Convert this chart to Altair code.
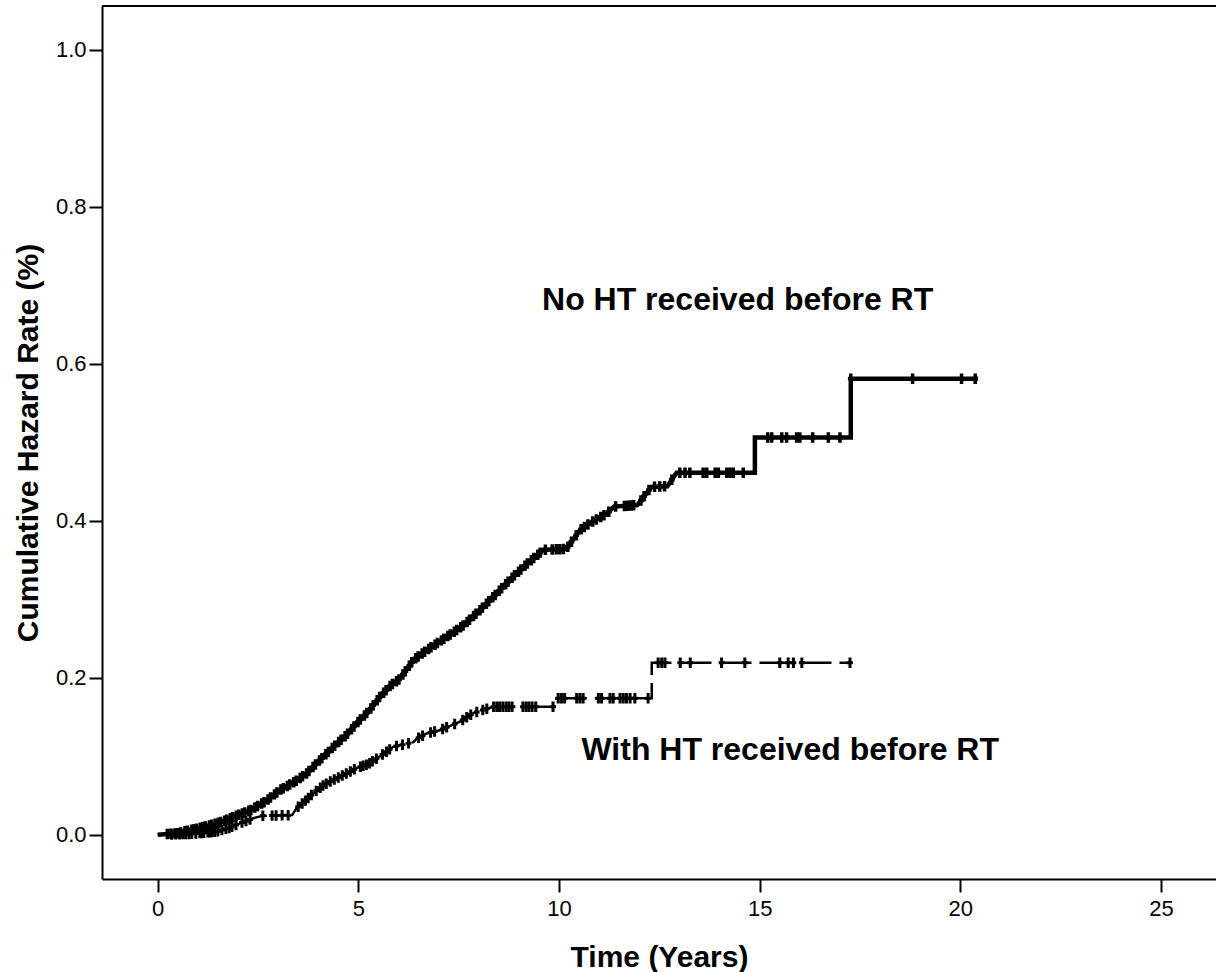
import altair as alt
import numpy as np
import pandas as pd

# ---- curve vertices (time in years, cumulative hazard) ----
no_ht_t = [0.0, 0.5, 0.8, 1.0, 1.3, 1.63, 2.0, 2.3, 2.7, 3.05, 3.4, 3.71, 4.0, 4.38, 4.7,
           4.96, 5.25, 5.54, 5.8, 6.04, 6.37, 6.7, 7.2, 7.6, 8.03, 8.4, 8.86, 9.2, 9.5,
           9.61, 10.18, 10.52, 10.8, 11.19, 11.37, 11.95, 12.18, 12.3, 12.7, 12.93,
           14.88, 14.88, 17.27, 17.27, 20.44]
no_ht_h = [0.0, 0.002, 0.006, 0.008, 0.012, 0.017, 0.025, 0.031, 0.043, 0.057, 0.067, 0.078,
           0.093, 0.112, 0.127, 0.142, 0.157, 0.176, 0.19, 0.199, 0.2225, 0.235, 0.252,
           0.266, 0.286, 0.305, 0.329, 0.345, 0.358, 0.363, 0.364, 0.388, 0.398, 0.409,
           0.418, 0.420, 0.435, 0.443, 0.444, 0.461, 0.461, 0.506, 0.506, 0.581, 0.581]

with_ht_t = [0.0, 0.8, 1.47, 1.8, 2.05, 2.38, 2.6, 3.35, 3.46, 3.65, 3.88, 4.1, 4.38, 4.7,
             4.96, 5.25, 5.54, 5.87, 6.37, 6.45, 6.7, 7.03, 7.3, 7.53, 7.87, 8.36,
             9.94, 9.94, 12.31, 12.31, 17.25]
with_ht_h = [0.0, 0.001, 0.004, 0.009, 0.0145, 0.021, 0.024, 0.025, 0.034, 0.042, 0.053,
             0.062, 0.070, 0.078, 0.085, 0.090, 0.100, 0.112, 0.118, 0.122, 0.129,
             0.133, 0.139, 0.144, 0.155, 0.163, 0.163, 0.174, 0.174, 0.219, 0.219]

# ---- censoring times (the "+" marks) ----
no_ht_censor = [0.24, 0.33, 0.43, 0.49, 0.57, 0.68, 0.74, 0.85, 0.91, 0.97, 1.06, 1.13, 1.19,
                1.29, 1.34, 1.43, 1.51, 1.57, 1.67, 1.72, 1.81, 1.87, 1.96, 2.02, 2.11, 2.17,
                2.27, 2.32, 2.42, 2.49, 2.59, 2.65, 2.75, 2.81, 2.91, 2.97, 3.07, 3.13, 3.23,
                3.29, 3.39, 3.45, 3.55, 3.61, 3.71, 3.77, 3.87, 3.93, 4.03, 4.09, 4.19, 4.25,
                4.35, 4.41, 4.51, 4.57, 4.67, 4.73, 4.83, 4.89, 4.99, 5.05, 5.15, 5.21, 5.31,
                5.37, 5.47, 5.53, 5.63, 5.69, 5.79, 5.85, 5.95, 6.01, 6.11, 6.17, 6.27, 6.33,
                6.43, 6.49, 6.59, 6.65, 6.75, 6.81, 6.91, 6.97, 7.07, 7.13, 7.23, 7.29, 7.39,
                7.45, 7.55, 7.61, 7.71, 7.77, 7.87, 7.93, 8.03, 8.09, 8.19, 8.25, 8.35, 8.41,
                8.51, 8.57, 8.67, 8.73, 8.83, 8.89, 8.99, 9.05, 9.15, 9.21, 9.31, 9.37, 9.47,
                9.53, 9.66, 9.83, 9.93, 10.02, 10.11, 10.22, 10.31, 10.43, 10.55, 10.63,
                10.72, 10.84, 10.93, 11.04, 11.12, 11.24, 11.41, 11.63, 11.71, 11.79, 11.86,
                12.04, 12.12, 12.24, 12.38, 12.51, 12.63, 12.81,
                13.01, 13.14, 13.26, 13.59, 13.68, 13.89, 13.97, 14.18, 14.26, 14.34, 14.59,
                15.2, 15.3, 15.55, 15.67, 15.92, 16.0, 16.32, 16.71, 17.0,
                17.27, 18.81, 20.03, 20.37]
with_ht_censor = [0.35, 0.45, 0.55, 0.63, 0.7, 0.78, 0.85, 0.95, 1.05, 1.1, 1.15, 1.25, 1.3,
                  1.35, 1.42, 1.5, 1.6, 1.7, 1.78, 1.85, 1.95, 2.1, 2.2, 2.3, 2.62, 2.85,
                  2.95, 3.1, 3.25, 3.5, 3.6, 3.68, 3.75, 3.83, 3.95, 4.05, 4.12, 4.2, 4.3,
                  4.4, 4.5, 4.6, 4.7, 4.8, 4.9, 5.05, 5.12, 5.2, 5.28, 5.35, 5.45, 5.6, 5.7,
                  5.78, 5.95, 6.1, 6.25, 6.5, 6.6, 6.8, 6.9, 7.1, 7.2, 7.4, 7.6, 7.7, 7.8,
                  7.95, 8.1, 8.2,
                  8.37, 8.45, 8.52, 8.6, 8.68, 8.75, 8.83, 9.1, 9.18, 9.25, 9.33, 9.42, 9.85,
                  9.98, 10.06, 10.14, 10.44, 10.52, 10.6, 10.98, 11.06, 11.27, 11.35, 11.52,
                  11.6, 11.68, 11.77, 11.89, 12.22,
                  12.47, 12.56, 12.64, 13.02, 13.27, 14.05, 14.63, 15.5, 15.71, 15.84, 16.05,
                  17.25]

label_text = ["No HT received before RT", "With HT received before RT"]
label_t = [14.45, 15.76]
label_h = [0.668, 0.095]

x_ticks = [0, 5, 10, 15, 20, 25]
y_ticks = [0.0, 0.2, 0.4, 0.6, 0.8, 1.0]

W, H = 1114, 873
xdom = [-1.388, 26.37]
ydom = [-0.0564, 1.0557]
FONT = "Liberation Sans"

line_no = pd.DataFrame({"t": no_ht_t, "h": no_ht_h, "o": range(len(no_ht_t))})
line_with = pd.DataFrame({"t": with_ht_t, "h": with_ht_h, "o": range(len(with_ht_t))})
cen_no = pd.DataFrame({"t": no_ht_censor,
                       "h": np.interp(no_ht_censor, no_ht_t, no_ht_h, left=0)})
cen_no.loc[cen_no["t"] >= 17.27, "h"] = 0.581
cen_no.loc[(cen_no["t"] >= 14.88) & (cen_no["t"] < 17.27), "h"] = 0.506
cen_with = pd.DataFrame({"t": with_ht_censor,
                         "h": np.interp(with_ht_censor, with_ht_t, with_ht_h, left=0)})
cen_with.loc[cen_with["t"] >= 12.31, "h"] = 0.219
cen_with.loc[(cen_with["t"] >= 9.94) & (cen_with["t"] < 12.31), "h"] = 0.174
labels = pd.DataFrame({"t": label_t, "h": label_h, "txt": label_text})

X = alt.X("t:Q", scale=alt.Scale(domain=xdom, nice=False, zero=False),
          axis=alt.Axis(values=x_ticks, format="d", grid=False, labelFont=FONT,
                        labelFontSize=22, labelColor="black", labelPadding=6,
                        labelFlush=False, labelOverlap=False,
                        tickColor="black", tickSize=13, tickWidth=2,
                        domainColor="black", domainWidth=2,
                        title="Time (Years)", titleFont=FONT, titleFontSize=30,
                        titleFontWeight="bold", titleColor="black",
                        titleX=W / 2, titleY=87, titleBaseline="alphabetic",
                        titleAlign="center"))
Y = alt.Y("h:Q", scale=alt.Scale(domain=ydom, nice=False, zero=False),
          axis=alt.Axis(values=y_ticks, format=".1f", grid=False, labelFont=FONT,
                        labelFontSize=22, labelColor="black", labelPadding=3,
                        labelFlush=False, labelOverlap=False,
                        tickColor="black", tickSize=13, tickWidth=2,
                        domainColor="black", domainWidth=2,
                        title="Cumulative Hazard Rate (%)", titleFont=FONT,
                        titleFontSize=30, titleFontWeight="bold", titleColor="black",
                        titleAngle=270, titleX=-65, titleY=H / 2,
                        titleBaseline="alphabetic", titleAlign="center"))

plus = "M0,-1V1M-0.55,0H0.55"

l_no = alt.Chart(line_no).mark_line(color="black", strokeWidth=4.5).encode(
    x=X, y=Y, order="o:Q")
l_with = alt.Chart(line_with).mark_line(color="black", strokeWidth=2.5,
                                        strokeDash=[32, 8]).encode(x=X, y=Y, order="o:Q")
p_no = alt.Chart(cen_no).mark_point(shape=plus, size=110, filled=False, stroke="black",
                                    strokeWidth=3.5, opacity=1).encode(x=X, y=Y)
p_with = alt.Chart(cen_with).mark_point(shape=plus, size=110, filled=False, stroke="black",
                                        strokeWidth=3, opacity=1).encode(x=X, y=Y)
txt = alt.Chart(labels).mark_text(font=FONT, fontSize=32, fontWeight="bold",
                                  color="black", align="center",
                                  baseline="alphabetic").encode(x=X, y=Y, text="txt:N")
top = alt.Chart(pd.DataFrame({"a": [0]})).mark_rule(color="black", strokeWidth=2).encode(
    x=alt.value(0), x2=alt.value(W), y=alt.value(0))

chart = alt.layer(l_with, l_no, p_with, p_no, txt, top).properties(
    width=W, height=H,
    autosize=alt.AutoSizeParams(type="none"),
    padding={"left": 102, "top": 6, "right": 0, "bottom": 93},
    background="white",
).configure_view(strokeWidth=0)

chart.save("out.html", embed_options={"renderer": "svg", "actions": False})
